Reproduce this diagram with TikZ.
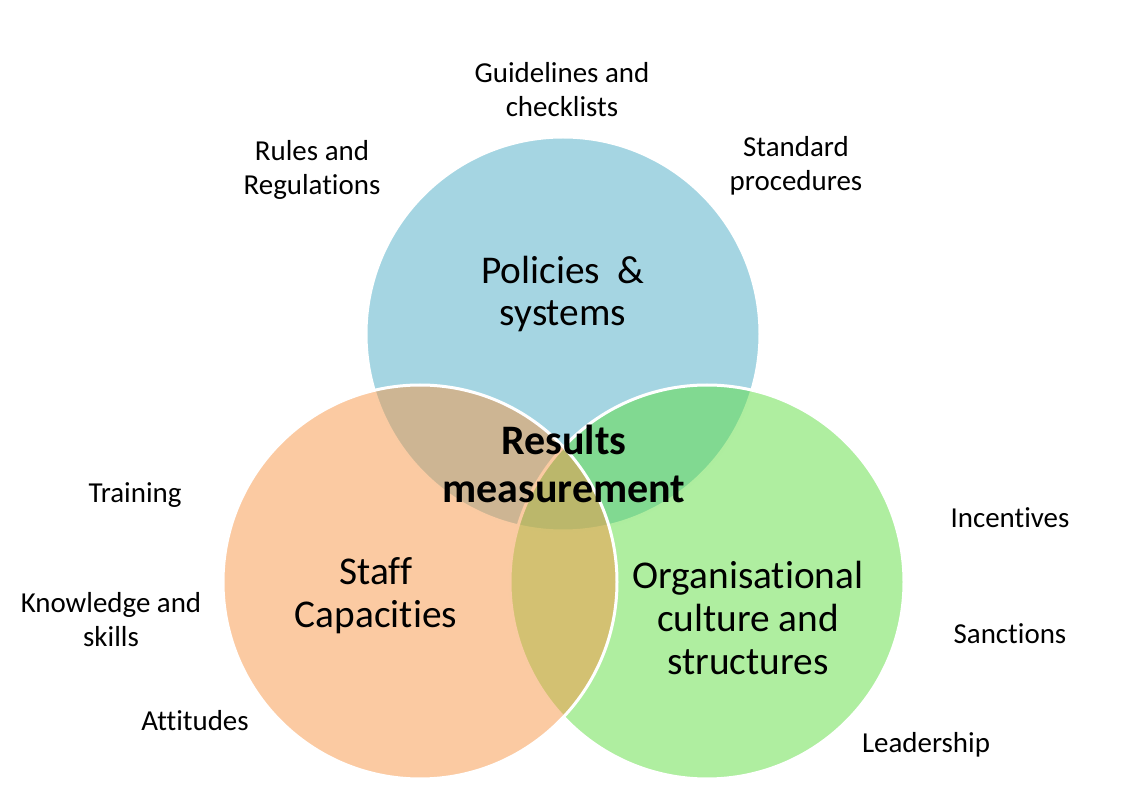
\documentclass[tikz,border=0pt]{standalone}
\usepackage{fontspec}
\setmainfont{Carlito}[Ligatures=NoCommon]
\usepackage{xcolor}
\definecolor{policy}{RGB}{75,172,198}
\definecolor{staff}{RGB}{247,150,70}
\definecolor{culture}{RGB}{95,221,65}

\begin{document}
\begin{tikzpicture}[x=0.75pt,y=-0.75pt]
            \useasboundingbox (0,0) rectangle (1122,791);
            % circles
            \draw[white, line width=2.25pt, fill=policy, fill opacity=0.5] (563,334) circle (197);
            \draw[white, line width=2.25pt, fill=culture, fill opacity=0.5] (707,582) circle (197);
            \draw[white, line width=2.25pt, fill=staff, fill opacity=0.5] (420,582) circle (197);
            % circle labels
            \node[align=center, font=\fontsize{29.5}{32}\selectfont] (policies) at (563,294) {Policies~ \&\\systems};
            \node[align=center, font=\fontsize{29.5}{32}\selectfont] (staffcap) at (376,596) {Staff\\Capacities};
            \node[align=center, font=\fontsize{29.5}{32}\selectfont] (orgcult) at (748,618) {Organisational\\culture and\\structures};
            \node[align=center, font=\fontsize{31.5}{36}\selectfont\bfseries] (results) at (564,464) {Results\\measurement};
            % outer labels
            \node[align=center, font=\fontsize{21.7}{25.5}\selectfont] (guide) at (562,90) {Guidelines and\\checklists};
            \node[align=center, font=\fontsize{21.7}{25.5}\selectfont] (rules) at (312,170) {Rules and\\Regulations};
            \node[align=center, font=\fontsize{21.7}{25.5}\selectfont] (standard) at (796,166) {Standard\\procedures};
            \node[font=\fontsize{21.7}{25.5}\selectfont] (training) at (135,495) {Training};
            \node[align=center, font=\fontsize{21.7}{25.5}\selectfont] (knowledge) at (111,620) {Knowledge and\\skills};
            \node[font=\fontsize{21.7}{25.5}\selectfont] (attitudes) at (195,721) {Attitudes};
            \node[font=\fontsize{21.7}{25.5}\selectfont] (incentives) at (1010,518) {Incentives};
            \node[font=\fontsize{21.7}{25.5}\selectfont] (sanctions) at (1010,634) {Sanctions};
            \node[font=\fontsize{21.7}{25.5}\selectfont] (leadership) at (926,745) {Leadership};
        \end{tikzpicture}
\end{document}
